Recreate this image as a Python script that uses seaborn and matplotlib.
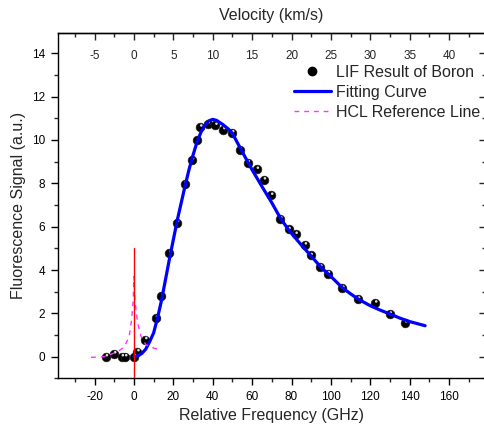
import numpy as np
import pandas as pd
import matplotlib
matplotlib.use("Agg")
import matplotlib.pyplot as plt
import matplotlib.transforms as mtransforms
from matplotlib.ticker import MultipleLocator
import seaborn as sns

# LIF measurement points (relative frequency in GHz, signal in a.u.)
lif_freq = [-14.2, -10.0, -6.1, -4.4, 0.0, 1.8, 5.8, 11.2, 13.9, 18.0, 21.9,
            25.8, 29.5, 32.1, 33.7, 37.5, 41.4, 45.4, 49.9, 53.8, 57.8, 62.4,
            66.0, 69.7, 74.3, 78.5, 82.1, 86.8, 89.7, 94.6, 98.5, 105.8,
            113.8, 122.5, 129.9, 137.7]
lif_signal = [0.0, 0.14, 0.0, 0.0, 0.0, 0.23, 0.79, 1.79, 2.79, 4.79, 6.19,
              7.99, 9.08, 9.98, 10.6, 10.75, 10.68, 10.48, 10.33, 9.55, 8.95,
              8.65, 8.16, 7.45, 6.36, 5.87, 5.65, 5.16, 4.67, 4.14, 3.83, 3.16,
              2.66, 2.48, 1.97, 1.56]

# fitting curve
fit_freq = [0, 2, 4, 6, 8, 10, 12, 14, 16, 18, 20, 22, 24, 26, 28, 30, 32,
            34, 36, 38, 40, 42, 45, 48, 50, 55, 60, 65, 70, 74.3, 78.5, 85,
            89.7, 95, 100, 105.8, 110, 113.8, 120, 125, 130, 135, 140, 147.8]
fit_signal = [0.0, 0.05, 0.15, 0.35, 0.7, 1.1, 1.8, 2.6, 3.55, 4.5, 5.4, 6.3,
              7.1, 7.9, 8.65, 9.3, 9.9, 10.35, 10.68, 10.88, 10.95, 10.9,
              10.72, 10.5, 10.3, 9.45, 8.62, 7.85, 7.1, 6.4, 5.85, 5.15,
              4.67, 4.12, 3.7, 3.18, 2.9, 2.66, 2.35, 2.15, 1.97, 1.78, 1.62,
              1.43]

# HCL reference line
hcl_freq = [-21.8, -15.0, -8.3, -4.9, -2.4, -1.2, -0.35, 0.0, 0.6, 1.9, 3.6,
            6.1, 10.0, 13.8]
hcl_signal = [-0.03, 0.0, 0.23, 0.45, 0.94, 1.7, 2.63, 3.7, 2.5, 1.55, 0.94,
              0.55, 0.4, 0.31]

# red marker line at zero frequency
zero_line_x = [0, 0]
zero_line_y = [-1, 5]

vel_ticks = [-5, 0, 5, 10, 15, 20, 25, 30, 35, 40]

sns.set_style("ticks")
plt.rcParams['font.family'] = ['Liberation Sans', 'DejaVu Sans']
plt.rcParams['axes.linewidth'] = 1.0
plt.rcParams['axes.unicode_minus'] = False

fig = plt.figure(figsize=(4.84, 4.28), dpi=100)
ax = fig.add_axes([57.5 / 484, 1 - 378.4 / 428, (485 - 57.5) / 484, (378.4 - 33.3) / 428])

pts = pd.DataFrame({'freq': lif_freq, 'signal': lif_signal})
sns.scatterplot(data=pts, x='freq', y='signal', ax=ax, color='black', s=40,
                edgecolor='#222222', linewidth=0.4, zorder=3, legend=False)
# little highlight on each ball
hl = mtransforms.offset_copy(ax.transData, fig=fig, x=0.7, y=1.1, units='points')
ax.scatter(lif_freq, lif_signal, s=3.5, color='#dddddd', edgecolor='none',
           transform=hl, zorder=3.5)

sns.lineplot(x=fit_freq, y=fit_signal, ax=ax, color='#0000ff', lw=2.3,
             sort=False, zorder=4)
sns.lineplot(x=hcl_freq, y=hcl_signal, ax=ax, color='#ff33ff', lw=1.0,
             linestyle=(0, (3.5, 3.5)), sort=False, zorder=4)
ax.plot(zero_line_x, zero_line_y, color='#ff0000', lw=1.0, zorder=4)

ax.set_xlim(-38.8, 178.2)
ax.set_ylim(-1, 14.92)
ax.xaxis.set_major_locator(MultipleLocator(20))
ax.xaxis.set_minor_locator(MultipleLocator(10))
ax.yaxis.set_major_locator(MultipleLocator(2))
ax.yaxis.set_minor_locator(MultipleLocator(1))
ax.tick_params(which='major', direction='out', length=5, width=1.0,
               labelsize=8.5, pad=4, colors='black')
ax.tick_params(which='minor', direction='out', length=3, width=1.0)
for sp in ax.spines.values():
    sp.set_visible(True)
    sp.set_color('black')

ax.set_xlabel('Relative Frequency (GHz)', fontsize=11.5, labelpad=4)
ax.set_ylabel('Fluorescence Signal (a.u.)', fontsize=11.5, labelpad=4)

# velocity axis on top (5 km/s <-> 20 GHz)
top = ax.secondary_xaxis('top', functions=(lambda f: f / 4.0, lambda v: v * 4.0))
top.set_xticks(vel_ticks)
top.xaxis.set_minor_locator(MultipleLocator(2.5))
top.tick_params(which='major', direction='in', length=5, width=1.0,
                labelsize=8.5, pad=-21)
top.tick_params(which='minor', direction='in', length=3, width=1.0)
top.set_xlabel('Velocity (km/s)', fontsize=11.5, labelpad=6)

right = ax.secondary_yaxis('right')
right.yaxis.set_major_locator(MultipleLocator(2))
right.yaxis.set_minor_locator(MultipleLocator(1))
right.tick_params(which='major', direction='in', length=4, width=1.0, labelright=False)
right.tick_params(which='minor', direction='in', length=2.5, width=1.0)

h_ball = plt.Line2D([], [], marker='o', ls='none', color='black', markersize=6)
h_fit = plt.Line2D([], [], color='#0000ff', lw=2.3)
h_hcl = plt.Line2D([], [], color='#ff33ff', lw=1.0, ls=(0, (3.5, 3.5)))
ax.legend([h_ball, h_fit, h_hcl],
          ['LIF Result of Boron', 'Fitting Curve', 'HCL Reference Line'],
          loc='upper left', bbox_to_anchor=(294 / 484, 1 - 65 / 428),
          bbox_transform=fig.transFigure, frameon=False, fontsize=11.5,
          handlelength=2.3, handletextpad=0.3, labelspacing=0.3,
          borderpad=0, borderaxespad=0)

fig.savefig('out.png', dpi=100)
